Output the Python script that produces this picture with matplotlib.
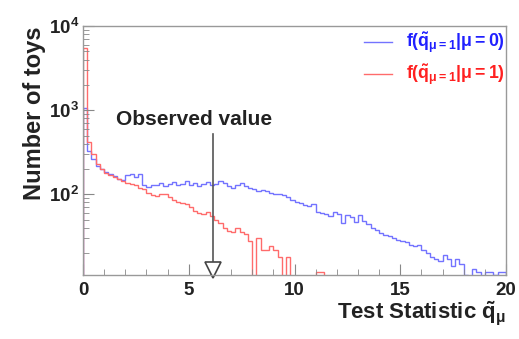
import numpy as np
import matplotlib
matplotlib.use("Agg")
import matplotlib.pyplot as plt
from matplotlib.ticker import MultipleLocator, LogLocator, NullFormatter

plt.rcParams['font.family'] = ['Liberation Sans', 'DejaVu Sans']
plt.rcParams['font.weight'] = 'bold'
plt.rcParams['mathtext.fontset'] = 'custom'
plt.rcParams['mathtext.rm'] = 'Liberation Sans:bold'
plt.rcParams['mathtext.it'] = 'Liberation Sans:bold'
plt.rcParams['mathtext.bf'] = 'Liberation Sans:bold'
plt.rcParams['mathtext.default'] = 'bf'

# Histogram bins: 100 bins of width 0.2 between 0 and 20
bin_edges = np.linspace(0, 20, 101)

# f(q | mu=0) toys
counts_mu0 = [
    1050, 330, 260, 220, 200, 185, 175, 165, 150, 148,
    170, 172, 160, 175, 128, 122, 130, 128, 135, 126,
    132, 140, 128, 134, 142, 130, 138, 126, 133, 140,
    128, 132, 142, 138, 125, 120, 130, 135, 125, 118,
    115, 108, 112, 110, 104, 102, 100, 98, 92, 86,
    80, 78, 75, 72, 76, 62, 60, 58, 55, 62,
    58, 46, 56, 54, 47, 56, 48, 44, 40, 38,
    35, 33, 32, 30, 29, 28, 27, 25, 24, 25,
    22, 20, 18, 17, 16, 19, 17, 14, 17, 15,
    11, 10, 13, 12, 10, 12, 12, 11, 12, 12,
]

# f(q | mu=1) toys
counts_mu1 = [
    5500, 420, 300, 230, 200, 180, 170, 160, 150, 145,
    138, 132, 130, 120, 115, 105, 98, 95, 100, 102,
    92, 85, 80, 78, 76, 70, 64, 60, 58, 62,
    55, 50, 46, 40, 37, 36, 40, 36, 34, 28,
    10, 30, 22, 22, 24, 22, 18, 10, 18, 10,
    0, 0, 0, 0, 0, 12, 12, 0, 0, 0,
] + [0] * 40

observed_value = 6.15

fig = plt.figure(figsize=(5.19, 3.39), dpi=100)
fig.patch.set_facecolor('white')
ax = fig.add_axes([0.160, 0.189, 0.815, 0.734])

ax.stairs(counts_mu0, bin_edges, color=(0.45, 0.45, 1.0), linewidth=1.0,
          label=r'$f(\tilde{q}_{\mu=1}|\mu=0)$')
ax.stairs(counts_mu1, bin_edges, color=(1.0, 0.42, 0.42), linewidth=1.0,
          label=r'$f(\tilde{q}_{\mu=1}|\mu=1)$')

ax.set_yscale('log')
ax.set_xlim(0, 20)
ax.set_ylim(11, 1e4)

# Observed value arrow
ax.plot([observed_value, observed_value], [520, 16], color='#555555', linewidth=1.2)
ax.plot([observed_value], [12.6], marker='v', markersize=11, markerfacecolor='white',
        markeredgecolor='#444444', markeredgewidth=1.2, clip_on=False)
ax.text(5.25, 590, 'Observed value', fontsize=15, fontweight='bold',
        ha='center', va='bottom', color='#222222')

# Axes styling
for sp in ax.spines.values():
    sp.set_color('#999999')
    sp.set_linewidth(1.0)
ax.xaxis.set_major_locator(MultipleLocator(5))
ax.xaxis.set_minor_locator(MultipleLocator(1))
ax.yaxis.set_major_locator(LogLocator(base=10))
ax.yaxis.set_minor_locator(LogLocator(base=10, subs=np.arange(2, 10)))
ax.yaxis.set_minor_formatter(NullFormatter())
ax.tick_params(axis='both', which='both', direction='in', color='#888888',
               labelsize=13.5, labelcolor='#222222')
ax.tick_params(axis='both', which='major', length=8)
ax.tick_params(axis='both', which='minor', length=4)
ax.tick_params(axis='x', pad=5)
ax.tick_params(axis='y', pad=3)

ax.set_xlabel(r'Test Statistic $\tilde{q}_{\mu}$', fontsize=16, fontweight='bold',
              color='#222222', loc='right', labelpad=0)
ax.set_ylabel('Number of toys', fontsize=17, fontweight='bold', color='#222222',
              loc='top', labelpad=2)

leg = ax.legend(loc='upper right', frameon=False, fontsize=12.8, handlelength=1.6,
                bbox_to_anchor=(1.015, 1.01), borderaxespad=0.0, labelspacing=0.4)
for txt, col in zip(leg.get_texts(), ['#2020ff', '#ff2020']):
    txt.set_color(col)

fig.savefig('out.png', dpi=100)
